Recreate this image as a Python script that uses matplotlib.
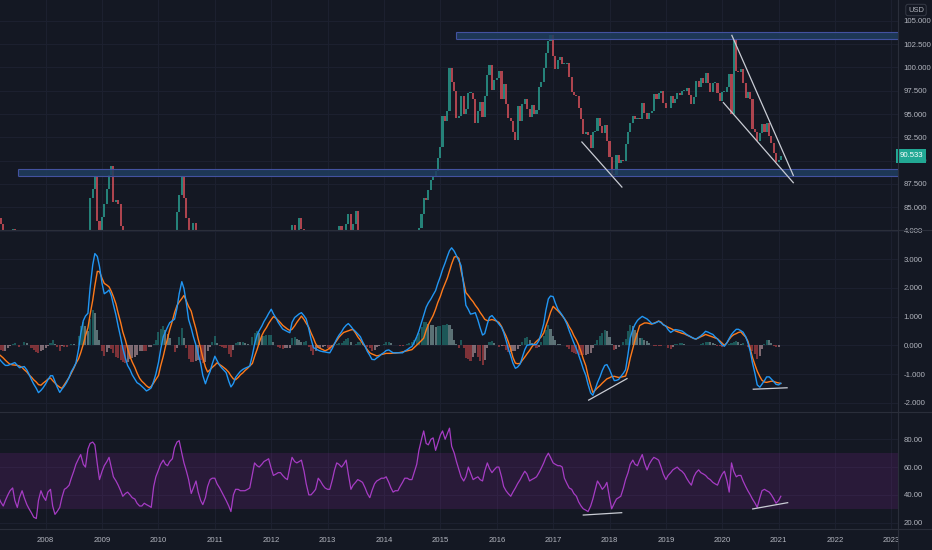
import numpy as np
import pandas as pd
import matplotlib
matplotlib.use("Agg")
import matplotlib.pyplot as plt
from matplotlib.transforms import blended_transform_factory
from matplotlib.patches import Rectangle
from matplotlib.lines import Line2D

# ---------------- data (semi-monthly, starting March 2007) ----------------
START = "2007-03-01"

close = [
    83.8, 83.2, 82.4, 81.6, 81.9, 82.1, 82.7, 81.9, 81.2, 80.6, 81.8, 81.0, 79.8, 78.0, 78.1, 76.8, 75.8, 76.1, 77.0, 76.7,
    75.8, 75.4, 76.0, 74.2, 72.2, 72.0, 72.5, 73.0, 72.6, 73.0, 73.5, 72.4, 72.6, 73.2, 76.2, 77.2, 79.2, 78.4, 82.0, 86.0, 87.0, 88.2, 83.5, 81.3,
    84.0, 85.4, 87.0, 88.5, 89.4, 85.6, 85.8, 85.4, 83.0, 79.9, 80.3, 80.2, 80.0, 78.9, 78.6, 78.4, 76.8, 76.8, 75.5, 76.4, 75.2, 74.9, 76.3, 77.9,
    77.0, 79.5, 80.6, 80.4, 79.7, 81.1, 81.2, 81.9, 84.5, 86.3, 88.3, 86.0, 83.8, 81.7, 82.6, 83.3, 81.8, 79.0, 77.2, 77.3, 78.0, 81.1, 79.6, 79.0,
    78.8, 77.7, 78.0, 76.9, 76.6, 75.9, 74.9, 73.1, 75.6, 74.6, 75.2, 74.3, 74.9, 74.0, 74.5, 74.2, 76.8, 78.6, 77.0, 76.2, 78.5, 78.3, 80.0, 80.2,
    80.9, 79.1, 78.8, 78.8, 79.7, 79.0, 79.4, 78.7, 81.4, 83.1, 81.9, 81.6, 83.8, 82.7, 82.5, 81.2, 79.3, 79.9, 79.7, 79.8, 81.0, 80.1, 79.5, 79.8,
    79.8, 79.2, 80.8, 82.0, 82.6, 83.0, 82.4, 81.5, 83.2, 84.3, 81.0, 83.2, 84.6, 81.5, 81.5, 82.1, 81.2, 80.2, 80.2, 79.6, 80.8, 80.7, 80.0, 80.0,
    81.0, 81.2, 80.4, 79.7, 79.5, 80.1, 79.8, 79.5, 79.7, 80.4, 80.6, 79.8, 80.8, 81.5, 81.8, 82.8, 84.3, 86.0, 85.8, 86.9, 87.9, 88.4, 88.9, 90.3,
    91.5, 94.8, 94.2, 95.3, 99.9, 98.4, 97.5, 94.6, 94.8, 96.9, 95.0, 95.5, 97.3, 97.3, 96.6, 94.0, 95.3, 96.3, 94.7, 96.9, 99.2, 100.2, 97.6, 98.6,
    98.9, 99.6, 96.6, 98.2, 96.1, 94.6, 94.3, 93.1, 92.2, 95.9, 94.3, 96.1, 96.6, 95.5, 94.7, 96.0, 95.0, 95.4, 97.9, 98.4, 99.9, 101.5, 102.8, 103.5,
    101.2, 99.8, 100.8, 101.1, 100.4, 100.4, 100.5, 99.0, 97.4, 97.0, 96.9, 95.6, 94.5, 92.9, 93.1, 92.7, 91.4, 93.1, 93.2, 94.6, 93.7, 93.0, 93.8, 92.1,
    90.4, 88.6, 88.5, 90.6, 89.8, 90.1, 90.0, 91.8, 93.1, 94.0, 94.8, 94.5, 94.6, 94.5, 96.2, 95.1, 94.5, 95.1, 95.3, 97.1, 96.6, 97.3, 97.5, 96.2,
    95.6, 95.6, 96.9, 96.2, 96.6, 97.3, 97.0, 97.5, 97.5, 97.8, 97.0, 96.1, 96.8, 98.5, 97.9, 98.9, 98.3, 99.4, 98.3, 97.4, 98.3, 98.3, 97.2, 96.4,
    97.4, 97.4, 97.9, 99.3, 95.0, 102.9, 99.6, 99.5, 99.8, 98.3, 96.7, 97.4, 96.6, 93.4, 93.1, 92.1, 93.0, 93.9, 93.1, 94.0, 92.6, 91.9, 90.8, 89.9,
    90.1, 90.533,
]

macd = [
    -0.42, -0.53, -0.63, -0.70, -0.70, -0.67, -0.63, -0.60, -0.70, -0.78,
    -0.76, -0.74, -0.86, -1.01, -1.20, -1.35, -1.50, -1.65, -1.57, -1.48,
    -1.34, -1.20, -1.06, -1.06, -1.26, -1.45, -1.64, -1.53, -1.42, -1.30,
    -1.11, -0.92, -0.77, -0.62, -0.14, 0.40, 0.86, 1.02, 1.12, 2.00,
    2.80, 3.20, 3.10, 2.75, 2.15, 1.80, 1.86, 1.93, 1.75, 1.42,
    1.05, 0.67, 0.28, -0.10, -0.45, -0.70, -0.85, -1.03, -1.18, -1.30,
    -1.36, -1.43, -1.51, -1.59, -1.54, -1.48, -1.25, -1.00, -0.60, -0.15,
    0.30, 0.47, 0.64, 0.79, 0.86, 0.91, 1.30, 1.80, 2.22, 1.98,
    1.45, 0.90, 0.60, 0.30, 0.00, -0.29, -0.63, -1.05, -1.34, -1.12,
    -0.91, -0.65, -0.38, -0.53, -0.70, -0.79, -0.87, -0.95, -1.25, -1.45,
    -1.33, -1.12, -1.00, -0.91, -0.84, -0.80, -0.76, -0.72, -0.34, 0.04,
    0.35, 0.51, 0.67, 0.83, 0.97, 1.11, 1.26, 1.10, 0.95, 0.80,
    0.68, 0.57, 0.52, 0.48, 0.44, 0.80, 0.97, 1.03, 1.10, 1.14,
    1.03, 0.92, 0.57, 0.23, -0.08, -0.12, -0.17, -0.20, -0.22, -0.23,
    -0.25, -0.26, -0.10, 0.06, 0.22, 0.35, 0.47, 0.60, 0.70, 0.76,
    0.66, 0.56, 0.48, 0.40, 0.30, 0.13, -0.04, -0.21, -0.35, -0.49,
    -0.50, -0.44, -0.38, -0.31, -0.25, -0.18, -0.16, -0.21, -0.26, -0.26,
    -0.26, -0.26, -0.26, -0.20, -0.15, -0.09, -0.04, 0.10, 0.30, 0.50,
    0.80, 1.05, 1.33, 1.48, 1.62, 1.76, 1.91, 2.15, 2.40, 2.64,
    2.88, 3.10, 3.30, 3.40, 3.28, 3.13, 2.95, 2.78, 2.10, 1.40,
    1.25, 1.09, 1.11, 1.14, 0.88, 0.62, 0.36, 0.41, 0.75, 0.98,
    1.04, 0.95, 0.84, 0.74, 0.63, 0.45, 0.18, -0.10, -0.37, -0.62,
    -0.80, -0.76, -0.65, -0.42, -0.15, 0.00, 0.02, 0.03, 0.03, 0.03,
    0.17, 0.41, 0.75, 1.22, 1.62, 1.72, 1.70, 1.48, 1.26, 1.16,
    1.05, 0.93, 0.73, 0.51, 0.29, 0.09, -0.12, -0.33, -0.58, -0.82,
    -1.05, -1.36, -1.66, -1.74, -1.52, -1.30, -1.09, -0.88, -0.70, -0.67,
    -0.84, -1.03, -1.23, -1.22, -1.19, -1.09, -0.97, -0.85, -0.30, 0.25,
    0.56, 0.73, 0.87, 0.94, 1.01, 0.97, 0.92, 0.85, 0.76, 0.76,
    0.80, 0.84, 0.79, 0.72, 0.67, 0.55, 0.45, 0.50, 0.55, 0.54,
    0.52, 0.50, 0.44, 0.38, 0.33, 0.29, 0.24, 0.22, 0.28, 0.33,
    0.41, 0.49, 0.46, 0.42, 0.38, 0.30, 0.22, 0.12, 0.01, -0.03,
    0.10, 0.24, 0.38, 0.47, 0.56, 0.56, 0.51, 0.46, 0.30, 0.10,
    -0.22, -0.61, -1.00, -1.38, -1.46, -1.35, -1.23, -1.10, -1.10, -1.18,
    -1.27, -1.36, -1.38, -1.32,
]

signal = [
    -0.30, -0.36, -0.44, -0.52, -0.60, -0.66, -0.68, -0.69, -0.70, -0.72,
    -0.77, -0.85, -0.93, -1.03, -1.11, -1.20, -1.28, -1.37, -1.39, -1.32,
    -1.25, -1.18, -1.14, -1.23, -1.31, -1.39, -1.46, -1.50, -1.37, -1.25,
    -1.12, -0.97, -0.80, -0.63, -0.47, -0.26, 0.04, 0.33, 0.61, 1.07,
    1.57, 2.08, 2.58, 2.57, 2.33, 2.16, 2.10, 2.04, 1.89, 1.70,
    1.44, 1.12, 0.80, 0.47, 0.18, -0.11, -0.39, -0.58, -0.77, -0.96,
    -1.15, -1.25, -1.33, -1.41, -1.48, -1.43, -1.31, -1.19, -1.05, -0.72,
    -0.38, -0.05, 0.25, 0.55, 0.85, 1.14, 1.39, 1.51, 1.63, 1.74,
    1.54, 1.36, 1.19, 0.89, 0.56, 0.22, -0.11, -0.43, -0.76, -0.93,
    -0.85, -0.77, -0.69, -0.61, -0.67, -0.72, -0.78, -0.84, -0.94, -1.06,
    -1.17, -1.20, -1.12, -1.03, -0.96, -0.88, -0.80, -0.72, -0.63, -0.39,
    -0.15, 0.09, 0.34, 0.49, 0.62, 0.76, 0.90, 1.00, 0.95, 0.87,
    0.79, 0.70, 0.63, 0.57, 0.52, 0.56, 0.68, 0.80, 0.92, 1.02,
    0.90, 0.77, 0.63, 0.44, 0.25, 0.06, -0.07, -0.11, -0.15, -0.19,
    -0.15, -0.09, -0.03, 0.06, 0.17, 0.28, 0.38, 0.45, 0.48, 0.51,
    0.54, 0.55, 0.43, 0.30, 0.18, 0.07, -0.04, -0.15, -0.26, -0.30,
    -0.34, -0.37, -0.35, -0.32, -0.30, -0.28, -0.28, -0.28, -0.27, -0.27,
    -0.26, -0.25, -0.23, -0.21, -0.19, -0.17, -0.15, -0.08, 0.00, 0.08,
    0.17, 0.25, 0.53, 0.72, 0.90, 1.04, 1.26, 1.49, 1.71, 1.94,
    2.17, 2.35, 2.60, 2.84, 3.08, 3.10, 3.03, 2.60, 2.20, 1.84,
    1.74, 1.63, 1.52, 1.40, 1.28, 1.15, 1.03, 0.91, 0.86, 0.88,
    0.90, 0.88, 0.84, 0.80, 0.66, 0.49, 0.33, 0.14, -0.14, -0.42,
    -0.62, -0.64, -0.63, -0.52, -0.41, -0.30, -0.18, -0.06, 0.06, 0.14,
    0.22, 0.29, 0.43, 0.67, 0.91, 1.15, 1.36, 1.29, 1.20, 1.12,
    1.03, 0.93, 0.80, 0.65, 0.51, 0.34, 0.18, 0.01, -0.23, -0.47,
    -0.72, -1.06, -1.39, -1.64, -1.56, -1.48, -1.40, -1.32, -1.24, -1.17,
    -1.13, -1.09, -1.08, -1.10, -1.12, -1.11, -1.09, -1.07, -0.80, -0.45,
    -0.10, 0.18, 0.45, 0.69, 0.74, 0.78, 0.78, 0.76, 0.74, 0.77,
    0.81, 0.85, 0.81, 0.72, 0.67, 0.63, 0.59, 0.55, 0.51, 0.48,
    0.45, 0.42, 0.40, 0.36, 0.32, 0.28, 0.24, 0.22, 0.26, 0.30,
    0.34, 0.38, 0.35, 0.32, 0.29, 0.26, 0.23, 0.16, 0.08, 0.00,
    0.09, 0.21, 0.31, 0.37, 0.41, 0.45, 0.47, 0.38, 0.29, 0.15,
    -0.13, -0.42, -0.69, -0.90, -1.09, -1.22, -1.28, -1.29, -1.27, -1.25,
    -1.26, -1.29, -1.31, -1.33,
]

rsi = [
    38.7, 35, 32, 36, 40, 43, 45, 36, 31, 38,
    43, 38, 33, 30, 27, 24, 23, 36, 43, 39,
    36, 42, 44, 32, 26, 28, 31, 38, 44, 45,
    47, 52, 57, 62, 66, 69, 62, 60, 73, 77,
    78, 76, 62, 51, 57, 61, 64, 67, 60, 53,
    50, 47, 43, 39, 41, 42, 40, 38, 37, 34,
    32, 32, 34, 33, 32, 31, 46, 53, 58, 62,
    65, 62, 61, 64, 66, 74, 78, 79, 70, 63,
    57, 51, 41, 45, 50, 42, 36, 33, 38, 46,
    51, 52, 52, 48, 45, 42, 39, 36, 32, 28,
    40, 44, 44, 43, 43, 43, 44, 45, 55, 63,
    61, 60, 62, 64, 65, 66, 59, 54, 55, 56,
    56, 54, 52, 51, 60, 67, 64, 63, 64, 65,
    57, 48, 40, 40, 42, 44, 52, 50, 47, 45,
    44, 44, 51, 58, 63, 62, 60, 62, 65, 55,
    44, 47, 49, 51, 50, 49, 45, 41, 38, 43,
    48, 50, 51, 52, 52, 53, 49, 45, 42, 43,
    43, 46, 49, 52, 52, 51, 51, 56, 62, 72,
    80, 86, 77, 76, 80, 81, 72, 77, 83, 86,
    80, 84, 88, 75, 70, 64, 58, 53, 50, 53,
    60, 56, 51, 52, 53, 51, 50, 57, 63, 59,
    56, 58, 60, 60, 53, 46, 43, 41, 39, 42,
    45, 48, 51, 54, 57, 55, 50, 51, 52, 53,
    56, 59, 63, 67, 70, 67, 63, 62, 61, 61,
    60, 52, 48, 45, 44, 41, 39, 35, 32, 30,
    29, 28, 32, 37, 44, 50, 47, 44, 46, 49,
    38, 30, 34, 37, 38, 39, 45, 51, 56, 62,
    65, 62, 61, 65, 69, 63, 58, 62, 65, 67,
    66, 65, 60, 55, 51, 54, 56, 58, 59, 60,
    58, 57, 55, 52, 49, 47, 53, 56, 58, 56,
    55, 54, 52, 51, 49, 48, 47, 51, 55, 57,
    50, 42, 63, 57, 53, 54, 54, 50, 46, 43,
    40, 37, 34, 31, 38, 43, 44, 43, 42, 40,
    37, 34, 36, 39,
]

price_ticks = [85, 87.5, 90, 92.5, 95, 97.5, 100, 102.5, 105]
macd_ticks = [-2, -1, 0, 1, 2, 3, 4]
rsi_ticks = [20, 40, 60, 80]
year_ticks = list(range(2008, 2024))

# horizontal zones: (start year, low, high)
zones = [(2007.50, 88.35, 89.14), (2015.28, 103.00, 103.80)]
# drawn trend lines: ((year, value), (year, value))
price_lines = [((2017.51, 92.00), (2018.22, 87.17)),
               ((2020.17, 103.43), (2021.26, 88.42)),
               ((2020.02, 96.22), (2021.26, 87.64))]
macd_lines = [((2017.63, -1.91), (2018.31, -1.16)),
              ((2020.55, -1.53), (2021.15, -1.48))]
rsi_lines = [((2017.535, 25.5), (2018.216, 27.2)),
             ((2020.54, 29.9), (2021.16, 34.4))]

# ---------------- style ----------------
BG = "#141823"
GRID = "#1d2130"
SEP = "#2a2e3a"
TXT = "#b2b5be"
UP = "#2a9d90"
DN = "#d5505a"
plt.rcParams["font.family"] = ["Liberation Sans", "DejaVu Sans"]
FS = 5.6


def decimal_years(n):
    d = pd.date_range(START, periods=n, freq="SMS")
    days = np.where(d.is_leap_year, 366, 365)
    return np.asarray(d.year + (d.dayofyear - 1) / days, dtype=float)


XLIM = (2007.189, 2023.117)

fig = plt.figure(figsize=(9.32, 5.5), dpi=100, facecolor=BG)
W = 898 / 932
ax_p = fig.add_axes([0, 1 - 229.5 / 550, W, 229.5 / 550])
ax_m = fig.add_axes([0, 1 - 412.3 / 550, W, (412.3 - 229.5) / 550])
ax_r = fig.add_axes([0, 1 - 529.3 / 550, W, (529.3 - 412.3) / 550])


def style(ax, ticks, labels, ylim):
    ax.set_facecolor(BG)
    for s in ax.spines.values():
        s.set_visible(False)
    ax.set_xlim(*XLIM)
    ax.set_ylim(*ylim)
    ax.yaxis.tick_right()
    ax.set_yticks(ticks, labels=labels)
    ax.tick_params(axis="y", length=0, pad=4.0, labelsize=FS, labelcolor=TXT)
    ax.set_xticks(year_ticks)
    ax.tick_params(axis="x", length=0, labelbottom=False)
    for t in ticks:
        ax.axhline(t, color=GRID, lw=0.7, zorder=0)
    for y in year_ticks:
        ax.axvline(y, color=GRID, lw=0.7, zorder=0)


style(ax_p, price_ticks, [f"{t:.3f}" for t in price_ticks], (82.62, 107.22))
style(ax_m, macd_ticks, [f"{t:.3f}" for t in macd_ticks], (-2.335, 4.04))
style(ax_r, rsi_ticks, [f"{t:.2f}" for t in rsi_ticks], (15.25, 99.4))
ax_r.tick_params(axis="x", labelbottom=True, labelsize=FS, labelcolor=TXT, pad=5.8)
ax_r.set_xticklabels([str(y) for y in year_ticks])

# ---------------- price pane ----------------
xc = decimal_years(len(close))
c = np.array(close, dtype=float)
o = np.concatenate([[c[0]], c[:-1]])
body = c - o
body = np.where(np.abs(body) < 0.08, 0.08, body)
cols = np.where(c >= o, UP, DN)
ax_p.bar(xc, body, bottom=o, width=0.037, color=cols, alpha=0.8, zorder=2, linewidth=0)

for x0, lo, hi in zones:
    ax_p.add_patch(Rectangle((x0, lo), XLIM[1] - x0, hi - lo, facecolor="#1f3d5e",
                             alpha=0.85, edgecolor="none", zorder=3))
    ax_p.hlines([lo, hi], x0, XLIM[1], colors="#4352a0", lw=0.8, zorder=3)
    ax_p.vlines(x0, lo, hi, colors="#4352a0", lw=0.8, zorder=3)

for (xa, ya), (xb, yb) in price_lines:
    ax_p.plot([xa, xb], [ya, yb], color="#c9ccd4", lw=0.9, zorder=4)

tr = blended_transform_factory(ax_p.transAxes, ax_p.transData)
ax_p.text(1.0015, c[-1], f"{c[-1]:.3f}", transform=tr, color="white", fontsize=FS,
          va="center", ha="left", zorder=10, clip_on=False,
          bbox=dict(boxstyle="square,pad=0.45", fc="#22a894", ec="none"))
fig.text(916 / 932, 1 - 10 / 550, "USD", ha="center", va="center", fontsize=5.4, color=TXT,
         bbox=dict(boxstyle="round,pad=0.3", fc=BG, ec="#3a3e4a", lw=0.6))

# ---------------- MACD pane ----------------
xm = decimal_years(len(macd))
xs = decimal_years(len(signal))
m = np.array(macd, dtype=float)
s = np.array(signal, dtype=float)
n = min(len(m), len(s))
hist = m[:n] - s[:n]
prev = np.concatenate([[hist[0]], hist[:-1]])
hcols = []
for h, p in zip(hist, prev):
    if h >= 0:
        hcols.append("#26a69a" if h >= p else "#b2dfdb")
    else:
        hcols.append("#ff5252" if h <= p else "#ffcdd2")
ax_m.bar(xm[:n], hist, width=0.036, color=hcols, alpha=0.45, linewidth=0, zorder=1)
ax_m.plot(xm, m, color="#2196f3", lw=1.0, zorder=3)
ax_m.plot(xs, s, color="#ff7a1a", lw=1.0, zorder=2)
for (xa, ya), (xb, yb) in macd_lines:
    ax_m.plot([xa, xb], [ya, yb], color="#c9ccd4", lw=0.9, zorder=4)

# ---------------- RSI pane ----------------
xr = decimal_years(len(rsi))
ax_r.axhspan(30, 70, color="#9c27b0", alpha=0.16, lw=0, zorder=0.5)
ax_r.plot(xr, rsi, color="#a63cc4", lw=0.9, zorder=3)
for (xa, ya), (xb, yb) in rsi_lines:
    ax_r.plot([xa, xb], [ya, yb], color="#c9ccd4", lw=0.9, zorder=4)

# ---------------- pane separators ----------------
for yy in (229.5, 412.3, 529.3):
    fig.add_artist(Line2D([0, 1], [1 - yy / 550] * 2, color=SEP, lw=0.8))
fig.add_artist(Line2D([W, W], [0, 1], color=SEP, lw=0.8))

fig.savefig("out.png", dpi=100, facecolor=BG)
